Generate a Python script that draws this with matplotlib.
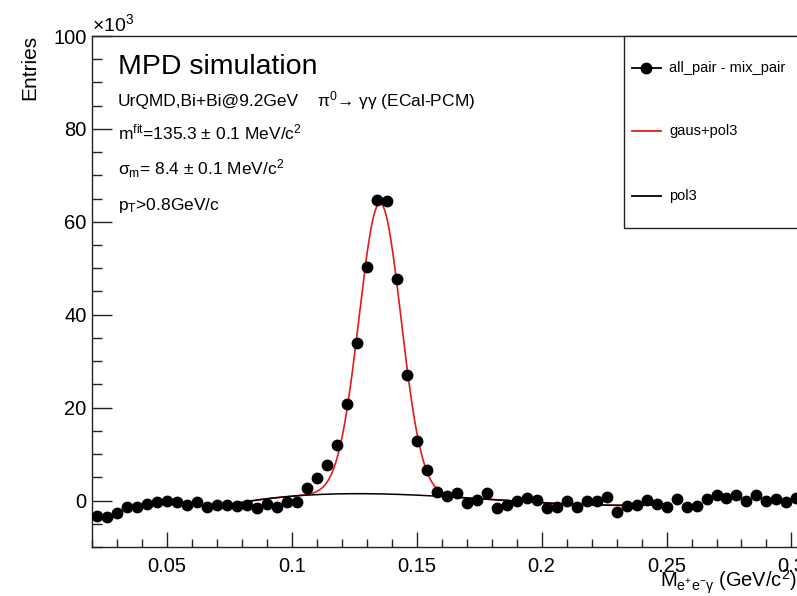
import numpy as np
import matplotlib
matplotlib.use("Agg")
import matplotlib.pyplot as plt
from matplotlib.lines import Line2D
from matplotlib.patches import Rectangle
from matplotlib.ticker import MultipleLocator

plt.rcParams['font.family'] = ['Liberation Sans', 'DejaVu Sans']
plt.rcParams['mathtext.fontset'] = 'custom'
plt.rcParams['mathtext.rm'] = 'Liberation Sans'
plt.rcParams['mathtext.it'] = 'Liberation Sans:italic'
plt.rcParams['mathtext.bf'] = 'Liberation Sans:bold'
plt.rcParams['mathtext.sf'] = 'Liberation Sans'

# ---- data (y in units of 10^3 entries) ----
mass_bins = np.round(0.022 + 0.004 * np.arange(71), 3)
entries = [-3.3, -3.6, -2.6, -1.4, -1.4, -0.7, -0.3, 0.0, -0.4, -1.0,
           -0.4, -1.4, -1.0, -1.0, -1.2, -1.0, -1.7, -0.7, -1.4, -0.4,
           -0.3, 2.75, 4.8, 7.7, 12.0, 20.7, 33.9, 50.3, 64.7, 64.5,
           47.6, 27.0, 12.8, 6.6, 1.9, 0.9, 1.6, -0.6, 0.15, 1.6,
           -1.65, -0.9, -0.2, 0.5, 0.15, -1.5, -1.4, -0.2, -1.4, -0.2,
           -0.2, 0.7, -2.4, -1.15, -0.9, 0.15, -0.7, -1.4, 0.4, -1.4,
           -1.15, 0.4, 1.3, 0.5, 1.3, 0.0, 1.3, 0.0, 0.4, -0.4, 0.5]

# fit parameters
gaus_amp = 62.6
gaus_mean = 0.1353
gaus_sigma = 0.0084
pol3_anchor_x = [0.066, 0.120, 0.186, 0.250]
pol3_anchor_y = [-1.9, 1.45, 0.0, -0.8]
fit_range = (0.066, 0.25)

pol3_coef = np.polyfit(pol3_anchor_x, pol3_anchor_y, 3)
xf = np.linspace(fit_range[0], fit_range[1], 400)
bg = np.polyval(pol3_coef, xf)
total = bg + gaus_amp * np.exp(-0.5 * ((xf - gaus_mean) / gaus_sigma) ** 2)

W, H = 797, 596
fig = plt.figure(figsize=(W / 100, H / 100), dpi=100)

def fx(px):
    return px / W

def fy(py):
    return 1 - py / H

# axes: left 92px, top 36px, bottom 547px, x scale 2498 px per GeV
x0, x1 = 0.02, 0.34
ax_left, ax_top, ax_bottom = 92, 36, 547
ax_right = ax_left + (x1 - x0) * 2498
ax = fig.add_axes([fx(ax_left), fy(ax_bottom), (ax_right - ax_left) / W,
                   (ax_bottom - ax_top) / H])
ax.set_xlim(x0, x1)
ax.set_ylim(-10, 100)

ax.plot(mass_bins, entries, 'o', color='black', markersize=7.5, zorder=3)
ax.plot(xf, total, color='#e31a1c', lw=1.2, zorder=2)
ax.plot(xf, bg, color='black', lw=1.1, zorder=2.5)

ax.xaxis.set_major_locator(MultipleLocator(0.05))
ax.xaxis.set_minor_locator(MultipleLocator(0.01))
ax.yaxis.set_major_locator(MultipleLocator(20))
ax.yaxis.set_minor_locator(MultipleLocator(5))
ax.set_xticks([0.05, 0.1, 0.15, 0.2, 0.25, 0.3])
ax.set_xticklabels(['0.05', '0.1', '0.15', '0.2', '0.25', '0.3'])
ax.tick_params(axis='both', which='both', direction='in', labelsize=14.5,
               width=1.0, color='#222222')
ax.tick_params(axis='y', which='major', length=14.4, pad=4)
ax.tick_params(axis='y', which='minor', length=7.5)
ax.tick_params(axis='x', which='major', length=11, pad=7)
ax.tick_params(axis='x', which='minor', length=5.5)
for s in ax.spines.values():
    s.set_linewidth(1.0)
    s.set_color('#222222')

# axis titles
fig.text(fx(30), fy(35), 'Entries', rotation=90, ha='center', va='top', fontsize=15)
fig.text(fx(92), fy(35), r'$\times$10$^{3}$', ha='left', va='bottom', fontsize=14)
xlab = r'M$_{\rm e^{+}e^{-}\gamma}$ (GeV/c$^{2}$)'
fig.text(fx(797), fy(587), xlab, ha='right', va='baseline', fontsize=14.5)

# annotations
fig.text(fx(118), fy(74), 'MPD simulation', ha='left', va='baseline', fontsize=20.5)
fig.text(fx(118), fy(106), 'UrQMD,Bi+Bi@9.2GeV', ha='left', va='baseline', fontsize=12.5)
fig.text(fx(317), fy(106), 'π$^{0}$→ γγ (ECal-PCM)', ha='left', va='baseline', fontsize=12.5)
fig.text(fx(118), fy(139), r'm$^{\rm fit}$=135.3 ± 0.1 MeV/c$^{2}$', ha='left',
         va='baseline', fontsize=12.5)
fig.text(fx(118), fy(175), r'σ$_{\rm m}$= 8.4 ± 0.1 MeV/c$^{2}$', ha='left',
         va='baseline', fontsize=12.5)
fig.text(fx(118), fy(210), r'p$_{\rm T}$>0.8GeV/c', ha='left', va='baseline', fontsize=12.5)

# legend box
fig.add_artist(Rectangle((fx(624), fy(228)), fx(200), (228 - 36) / H,
                         transform=fig.transFigure, facecolor='white',
                         edgecolor='#222222', lw=1.0, zorder=5))
leg_items = [('all_pair - mix_pair', 'black', True, 68),
             ('gaus+pol3', '#e31a1c', False, 131),
             ('pol3', 'black', False, 196)]
for label, col, mark, py in leg_items:
    fig.add_artist(Line2D([fx(632), fx(661)], [fy(py), fy(py)], color=col, lw=1.3,
                          transform=fig.transFigure, zorder=6))
    if mark:
        fig.add_artist(Line2D([fx(646)], [fy(py)], marker='o', color='black',
                              markersize=7.5, transform=fig.transFigure, zorder=6))
    fig.text(fx(669), fy(py), label, ha='left', va='center', fontsize=10.5, zorder=7)

fig.savefig('out.png', dpi=100)
